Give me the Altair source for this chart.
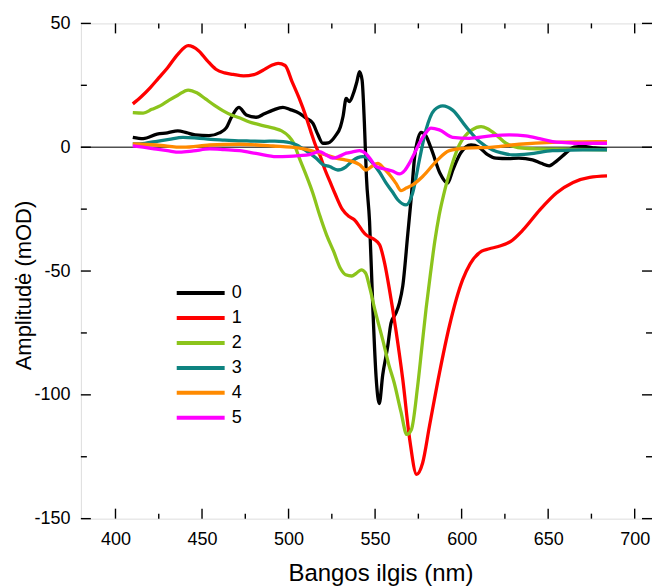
import altair as alt
import pandas as pd

# Difference spectra, amplitude in mOD against wavelength in nm, one curve per series.
series_names = ["0", "1", "2", "3", "4", "5"]
series_colors = ["#000000", "#ff0000", "#8cc41c", "#0e8380", "#ff8a00", "#ff00ff"]

x0 = [410, 416, 424, 430, 436, 441, 446, 454, 460, 464, 467, 471.3, 475.6, 481.3, 486,
      491, 496.7, 501, 506.3, 510, 514, 517, 519.8, 523, 527, 530, 531.5, 533.3, 535.2,
      537.5, 539.5, 541, 542.5, 543.8, 545, 546.8, 548.7, 550.6, 552.4, 554.4, 557.3,
      559.2, 562, 564, 566, 568.9, 570.8, 573, 576.6, 579, 582.7, 587.5, 591.9, 595,
      599.4, 605.4, 610, 615, 619.8, 627, 633, 641, 646, 650.6, 655, 660.2, 665, 670,
      677, 684]
y0 = [4.0, 3.5, 5.3, 5.8, 6.6, 5.9, 5.0, 4.7, 5.8, 7.8, 12.1, 16.1, 13.0, 12.1, 13.5,
      15.0, 16.1, 15.2, 13.7, 11.8, 9.7, 5.0, 1.6, 1.8, 4.5, 8.3, 12.5, 19.7, 18.4,
      21.8, 26.5, 30.5, 27.0, 10.0, -12.0, -30.0, -65.0, -93.0, -103.5, -92.0, -80.4,
      -71.0, -67.0, -63.0, -56.0, -35.0, -21.0, -3.0, 6.0, 5.0, -1.1, -10.5, -14.5,
      -9.0, -2.4, 0.9, 0.0, -3.0, -4.4, -4.6, -4.4, -5.1, -6.5, -7.5, -5.5, -2.4, 0.0,
      0.3, -0.3, -0.8]

x1 = [410, 415, 420, 425, 430, 436, 442, 448, 453, 458, 463, 468, 474, 480, 485, 490,
      494, 498, 502, 506, 510, 513, 516, 518, 521, 524, 527, 531, 535, 538, 541, 543,
      545, 549, 552.6, 555.5, 558.3, 562, 566, 570, 574, 577.5, 581.4, 587.2, 592.9,
      600.6, 605, 611.6, 616, 621.2, 628.4, 635.6, 645.2, 654.8, 664.4, 674, 684]
y1 = [17.5, 20.5, 24.0, 28.0, 32.0, 37.5, 41.0, 39.0, 35.0, 31.5, 30.0, 29.4, 28.8,
      29.3, 31.0, 33.0, 33.9, 33.0, 26.5, 20.0, 12.5, 6.0, 0.0, -3.0, -9.0, -14.0,
      -19.0, -25.0, -28.0, -29.3, -32.0, -34.0, -35.5, -37.0, -39.4, -46.8, -57.5,
      -73.7, -93.8, -118.0, -132.1, -127.4, -112.7, -91.1, -72.3, -53.5, -47.0, -42.0,
      -41.0, -40.1, -38.0, -33.3, -25.3, -18.5, -14.2, -12.2, -11.6]

x2 = [410, 416, 421, 426, 431, 436, 442, 447, 452, 457, 462, 467, 472, 477, 482, 487,
      492, 496, 500, 503, 506, 510, 514, 518, 522, 526, 530, 533, 536.5, 539, 542,
      544.5, 547, 550, 554.5, 558, 561, 565, 568.3, 571, 574.5, 577, 579.5, 582, 584.5,
      587, 589.5, 592, 595, 598.7, 602, 606, 611.2, 615, 620, 625.6, 630, 635.2, 645,
      655, 665, 675, 684]
y2 = [14.0, 13.8, 15.3, 16.8, 19.0, 21.0, 23.1, 22.0, 19.5, 17.0, 14.8, 13.0, 11.8,
      10.3, 9.3, 8.4, 7.6, 6.6, 4.5, 1.6, -4.0, -11.0, -18.5, -27.5, -35.5, -42.0,
      -49.0, -51.5, -52.0, -51.0, -49.5, -50.8, -57.0, -66.0, -78.0, -88.0, -95.0,
      -107.0, -116.0, -114.0, -97.0, -81.0, -65.0, -51.0, -38.0, -27.5, -19.5, -12.8,
      -5.8, 1.0, 4.5, 7.0, 8.3, 7.5, 5.0, 1.6, 0.3, -0.4, -0.7, -0.8, -0.9, -1.0, -1.1]

x3 = [410, 417, 424, 431, 439, 447, 455, 463, 471, 478, 486, 492, 497, 501, 504.4,
      508, 512.1, 516, 519.8, 523.7, 528.5, 533, 537.1, 540, 542.9, 545.8, 548.7,
      552.5, 556.4, 560, 563.1, 567.9, 571.7, 575.6, 579.4, 584.2, 589.1, 594.8,
      602.5, 610.2, 617.9, 623, 629.4, 639.1, 652.5, 662, 670, 677, 684]
y3 = [1.3, 1.6, 2.4, 3.2, 4.0, 3.7, 3.2, 2.9, 2.6, 2.5, 2.4, 2.5, 2.3, 1.8, 1.0, -0.5,
      -2.4, -4.5, -7.0, -7.8, -9.2, -8.0, -5.4, -4.2, -3.8, -4.5, -6.5, -10.0, -14.5,
      -18.0, -21.2, -23.3, -18.5, -5.1, 7.0, 15.0, 16.7, 15.0, 8.3, 2.3, -1.1, -2.3,
      -3.1, -2.7, -1.4, -1.2, -1.1, -1.1, -1.1]

x4 = [410, 423.7, 439, 454.4, 471.7, 491, 506.3, 512, 517.9, 522, 527.5, 532, 537.1,
      541, 544.8, 548, 551.6, 555, 559.2, 562, 565, 568, 571.7, 577.5, 585.2, 592.9,
      602.5, 617.9, 633.3, 652.5, 670, 684]
y4 = [1.3, 0.9, 0.0, 0.9, 1.2, 0.5, -0.4, -1.2, -2.4, -3.2, -4.4, -5.0, -5.8, -7.0,
      -9.2, -7.8, -6.5, -8.5, -11.8, -14.5, -17.5, -16.5, -15.2, -11.8, -5.8, -1.4,
      -0.4, 0.0, 1.2, 2.0, 2.2, 2.3]

x5 = [410, 416, 423.7, 430, 437, 445, 454.4, 463, 471.7, 482, 492.9, 500, 506.3, 512,
      517.9, 521.5, 525.6, 529.5, 533.3, 537, 541, 544.8, 547.5, 550.6, 556.4, 560,
      564.1, 567, 569.8, 572.7, 575.6, 579, 582.3, 587.1, 594.8, 604.4, 617.9, 627.5,
      637.1, 645, 652.5, 660, 667.9, 684]
y5 = [0.5, 0.0, -0.8, -1.4, -2.0, -1.5, -0.7, -1.0, -1.4, -2.6, -3.8, -3.7, -3.4, -3.0,
      -1.8, -3.0, -4.4, -3.6, -2.4, -1.9, -1.4, -2.7, -5.0, -7.8, -8.9, -9.6, -10.8,
      -9.5, -6.5, -2.5, 1.6, 5.5, 7.7, 7.0, 4.0, 3.6, 4.7, 5.0, 4.6, 3.5, 2.3, 1.9,
      1.6, 1.6]

# Axis ticks: labelled majors and unlabelled minors (drawn inside the frame)
x_major = [400, 450, 500, 550, 600, 650, 700]
x_minor = [425, 475, 525, 575, 625, 675]
y_major = [-150, -100, -50, 0, 50]
y_minor = [-125, -75, -25, 25]

xs = [x0, x1, x2, x3, x4, x5]
ys = [y0, y1, y2, y3, y4, y5]
rows = []
for name, xv, yv in zip(series_names, xs, ys):
    for a, b in zip(xv, yv):
        rows.append({"wl": a, "amp": b, "series": name})
df = pd.DataFrame(rows)

W, H = 572, 496
FONT = "Liberation Sans"
x_scale = alt.Scale(domain=[380, 710], nice=False, zero=False)
y_scale = alt.Scale(domain=[-150, 50], nice=False, zero=False)
# plain hyphen for negative numbers
label_expr = "datum.value < 0 ? '-' + abs(datum.value) : '' + datum.value"

x_axis = alt.Axis(values=x_major, labelExpr=label_expr, domain=False, ticks=False,
                  grid=False, labelFontSize=18, labelPadding=12, labelFont=FONT,
                  labelColor="#000", title="Bangos ilgis (nm)", titleFontSize=24,
                  titleFont=FONT, titleFontWeight="normal", titleColor="#000",
                  titleX=300, titleY=62, titleAlign="center",
                  titleBaseline="alphabetic")
y_axis = alt.Axis(values=y_major, labelExpr=label_expr, domain=False, ticks=False,
                  grid=False, labelFontSize=18, labelPadding=11, labelFont=FONT,
                  labelColor="#000", title="Amplitudė (mOD)", titleFontSize=22,
                  titleFont=FONT, titleFontWeight="normal", titleColor="#000",
                  titleX=-50, titleY=262, titleAngle=270, titleAlign="center",
                  titleBaseline="alphabetic")

zero_line = alt.Chart(pd.DataFrame({"v": [0]})).mark_rule(
    color="#505050", strokeWidth=1.6
).encode(y=alt.Y("v:Q", scale=y_scale, axis=y_axis))

lines = alt.Chart(df).mark_line(strokeWidth=3.3, interpolate="monotone").encode(
    x=alt.X("wl:Q", scale=x_scale, axis=x_axis),
    y=alt.Y("amp:Q", scale=y_scale, axis=y_axis),
    color=alt.Color(
        "series:N",
        scale=alt.Scale(domain=series_names, range=series_colors),
        legend=alt.Legend(
            orient="none", legendX=94, legendY=260, direction="vertical", title=None,
            symbolType="stroke", symbolSize=2304, symbolStrokeWidth=4,
            labelFontSize=18, labelFont=FONT, labelColor="#000", labelOffset=5,
            clipHeight=20, rowPadding=5, padding=0,
        ),
    ),
    order=alt.Order("series:N"),
)


def tick_layer(values, horizontal, length, edge):
    data = pd.DataFrame({"v": values})
    base = alt.Chart(data).mark_rule(color="#000", strokeWidth=1.4)
    if horizontal:
        start = 0 if edge == "left" else W
        end = length if edge == "left" else W - length
        return base.encode(y=alt.Y("v:Q", scale=y_scale, axis=y_axis),
                           x=alt.value(start), x2=alt.value(end))
    start = H if edge == "bottom" else 0
    end = H - length if edge == "bottom" else length
    return base.encode(x=alt.X("v:Q", scale=x_scale, axis=x_axis),
                       y=alt.value(start), y2=alt.value(end))


ticks = [
    tick_layer(x_major, False, 10, "bottom"), tick_layer(x_minor, False, 5, "bottom"),
    tick_layer(x_major, False, 10, "top"), tick_layer(x_minor, False, 5, "top"),
    tick_layer(y_major, True, 10, "left"), tick_layer(y_minor, True, 6, "left"),
    tick_layer(y_major, True, 10, "right"), tick_layer(y_minor, True, 6, "right"),
]

chart = alt.layer(zero_line, *ticks, lines).properties(
    width=W, height=H,
    padding={"left": 81, "top": 23, "right": 0, "bottom": 68},
    autosize=alt.AutoSizeParams(type="none"),
).configure_view(
    stroke="#000", strokeWidth=1.6
).configure(background="white")

chart.save("out.html", embed_options={"renderer": "svg", "actions": False})
